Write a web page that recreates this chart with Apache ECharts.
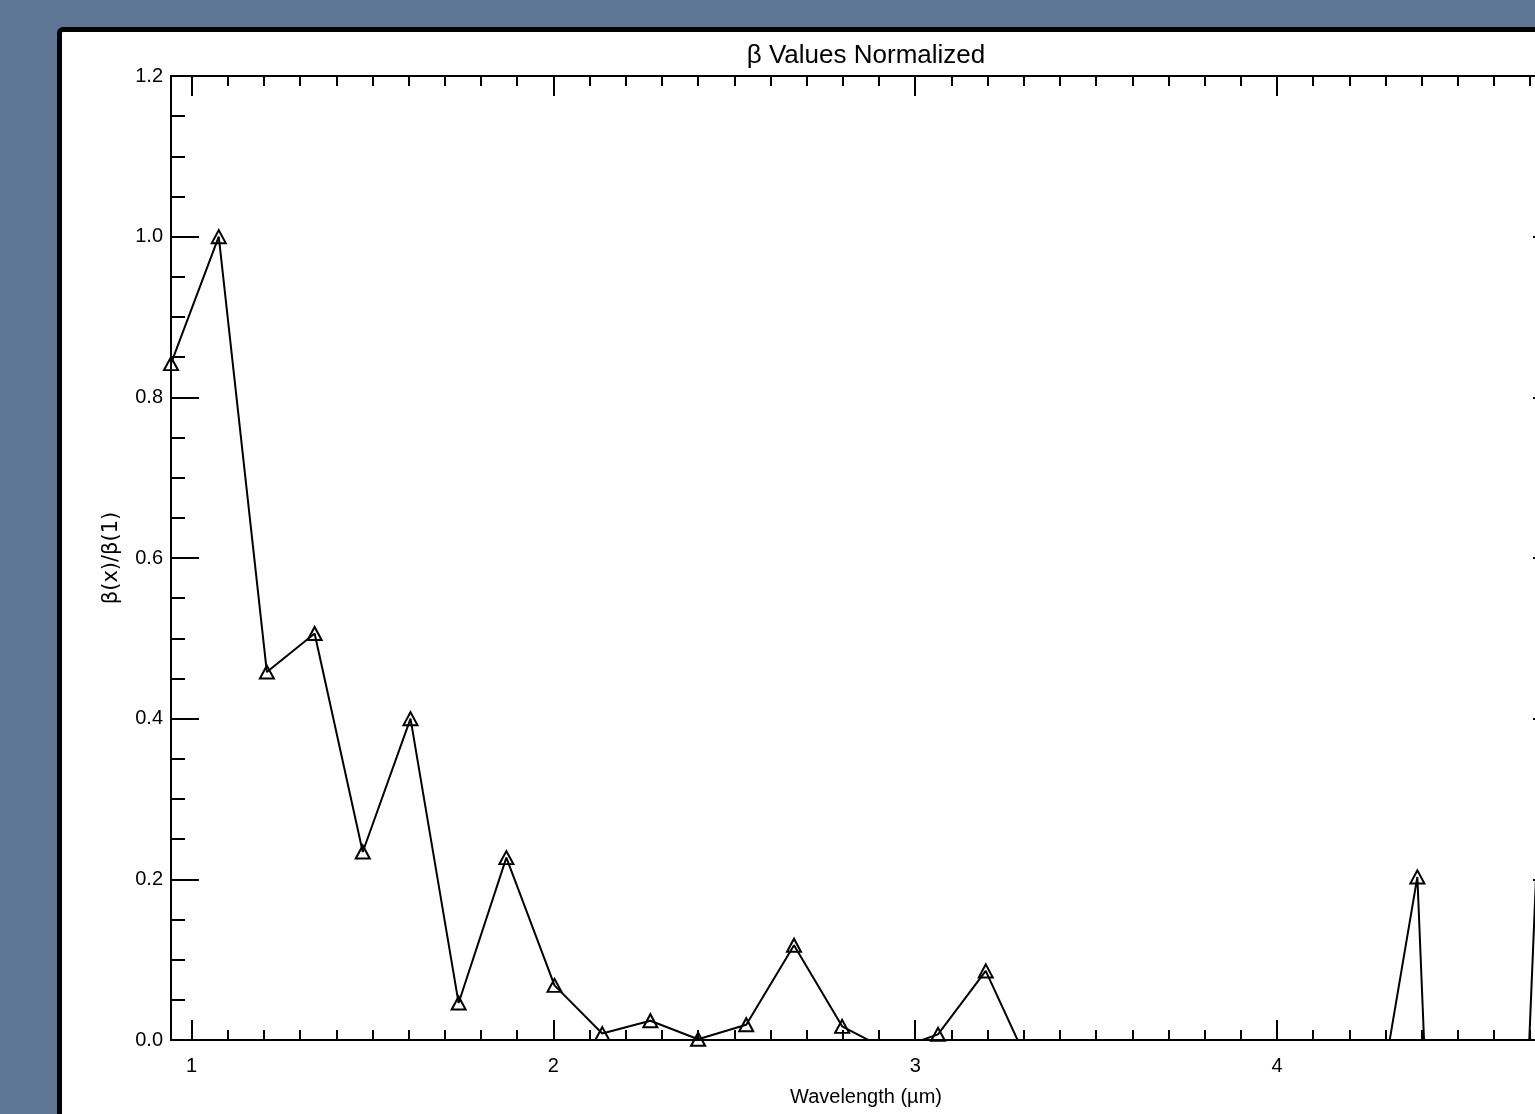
<!DOCTYPE html>
<html>
<head>
<meta charset="utf-8">
<script src="https://cdn.jsdelivr.net/npm/echarts@6/dist/echarts.min.js"></script>
<style>
  html, body { margin:0; padding:0; width:1535px; height:1114px; overflow:hidden; background:#5e7594; }
  #panel { position:absolute; left:57px; top:27px; width:2000px; height:2000px; box-sizing:border-box;
           border:5px solid #000; border-radius:6px; background:#fff; }
  #chart { position:absolute; left:0; top:0; width:1700px; height:1114px; }
</style>
</head>
<body>
<div id="panel"></div>
<div id="chart"></div>
<script>
// Wavelength (µm) of each sample
const wavelength = [0.943, 1.075, 1.208, 1.340, 1.473, 1.605, 1.738, 1.870, 2.003, 2.135,
                    2.268, 2.400, 2.533, 2.665, 2.798, 2.930, 3.063, 3.195, 3.328, 3.460,
                    3.593, 3.725, 3.858, 3.990, 4.123, 4.255, 4.388, 4.520, 4.653, 4.785];
// Normalized beta values beta(x)/beta(1) (values below 0 are clipped by the axis range)
const betaNorm = [0.842, 1.000, 0.458, 0.506, 0.234, 0.400, 0.046, 0.227, 0.068, 0.008,
                  0.024, 0.001, 0.019, 0.118, 0.017, -0.014, 0.007, 0.086, -0.044, -0.12,
                  -0.31, -0.18, -0.42, -0.27, -0.35, -0.150, 0.203, -1.25, -0.48, 0.95];
// Axis ticks
const xMajorTicks = [1, 2, 3, 4];
const xMin = 0.943, xMax = 4.785;
const yMin = 0, yMax = 1.2, yStep = 0.2;

const xMinorTicks = [];
for (let i = 10; i <= 47; i++) { if (i % 10 !== 0) xMinorTicks.push(i / 10); }

const FONT = '"Liberation Sans", "DejaVu Sans", sans-serif';
const black = '#000';
const line2 = { color: black, width: 2 };

function xAx(position, ticks, len, withLabel) {
  const ax = {
    type: 'value', min: xMin, max: xMax, position: position,
    axisLine: { show: true, onZero: false, lineStyle: line2 },
    axisTick: { show: true, inside: true, length: len, lineStyle: line2, customValues: ticks },
    axisLabel: { show: false },
    splitLine: { show: false }
  };
  if (withLabel) {
    ax.axisLabel = { show: true, customValues: ticks, margin: 16, color: black, fontSize: 20,
                     fontFamily: FONT, formatter: v => String(v) };
    ax.name = 'Wavelength (\u00b5m)';
    ax.nameLocation = 'middle';
    ax.nameGap = 47;
    ax.nameTextStyle = { color: black, fontSize: 20, fontFamily: FONT };
  }
  return ax;
}

function yAx(position, withLabel) {
  const ax = {
    type: 'value', min: yMin, max: yMax, interval: yStep, position: position,
    axisLine: { show: true, onZero: false, lineStyle: line2 },
    axisTick: { show: true, inside: true, length: 28, lineStyle: line2 },
    minorTick: { show: true, splitNumber: 4, length: 14, lineStyle: line2 },
    axisLabel: { show: false },
    splitLine: { show: false },
    minorSplitLine: { show: false }
  };
  if (withLabel) {
    ax.axisLabel = { show: true, margin: 8, color: black, fontSize: 20, fontFamily: FONT,
                     formatter: v => v.toFixed(1) };
    ax.name = '\u03b2(x)/\u03b2(1)';
    ax.nameLocation = 'middle';
    ax.nameGap = 49;
    ax.nameTextStyle = { color: black, fontSize: 21, fontFamily: '"DejaVu Sans", sans-serif' };
  }
  return ax;
}

const chart = echarts.init(document.getElementById('chart'), null, { renderer: 'canvas' });
chart.setOption({
  animation: false,
  backgroundColor: 'transparent',
  grid: { left: 171, top: 76, width: 1390, height: 964 },
  graphic: [{
    type: 'text', x: 866, y: 56,
    style: { text: '\u03b2 Values Normalized', fill: black, fontSize: 26, fontFamily: FONT,
             textAlign: 'center', textVerticalAlign: 'middle' }
  }],
  xAxis: [
    xAx('bottom', xMajorTicks, 20, true),
    xAx('bottom', xMinorTicks, 10, false),
    xAx('top', xMajorTicks, 20, false),
    xAx('top', xMinorTicks, 10, false)
  ],
  yAxis: [ yAx('left', true), yAx('right', false) ],
  series: [{
    type: 'line',
    xAxisIndex: 0, yAxisIndex: 0,
    data: wavelength.map((w, i) => [w, betaNorm[i]]),
    clip: true,
    symbol: 'triangle',
    symbolSize: [14, 13],
    showAllSymbol: true,
    lineStyle: { color: black, width: 2 },
    itemStyle: { color: 'rgba(0,0,0,0)', borderColor: black, borderWidth: 2 }
  }]
});
</script>
</body>
</html>
